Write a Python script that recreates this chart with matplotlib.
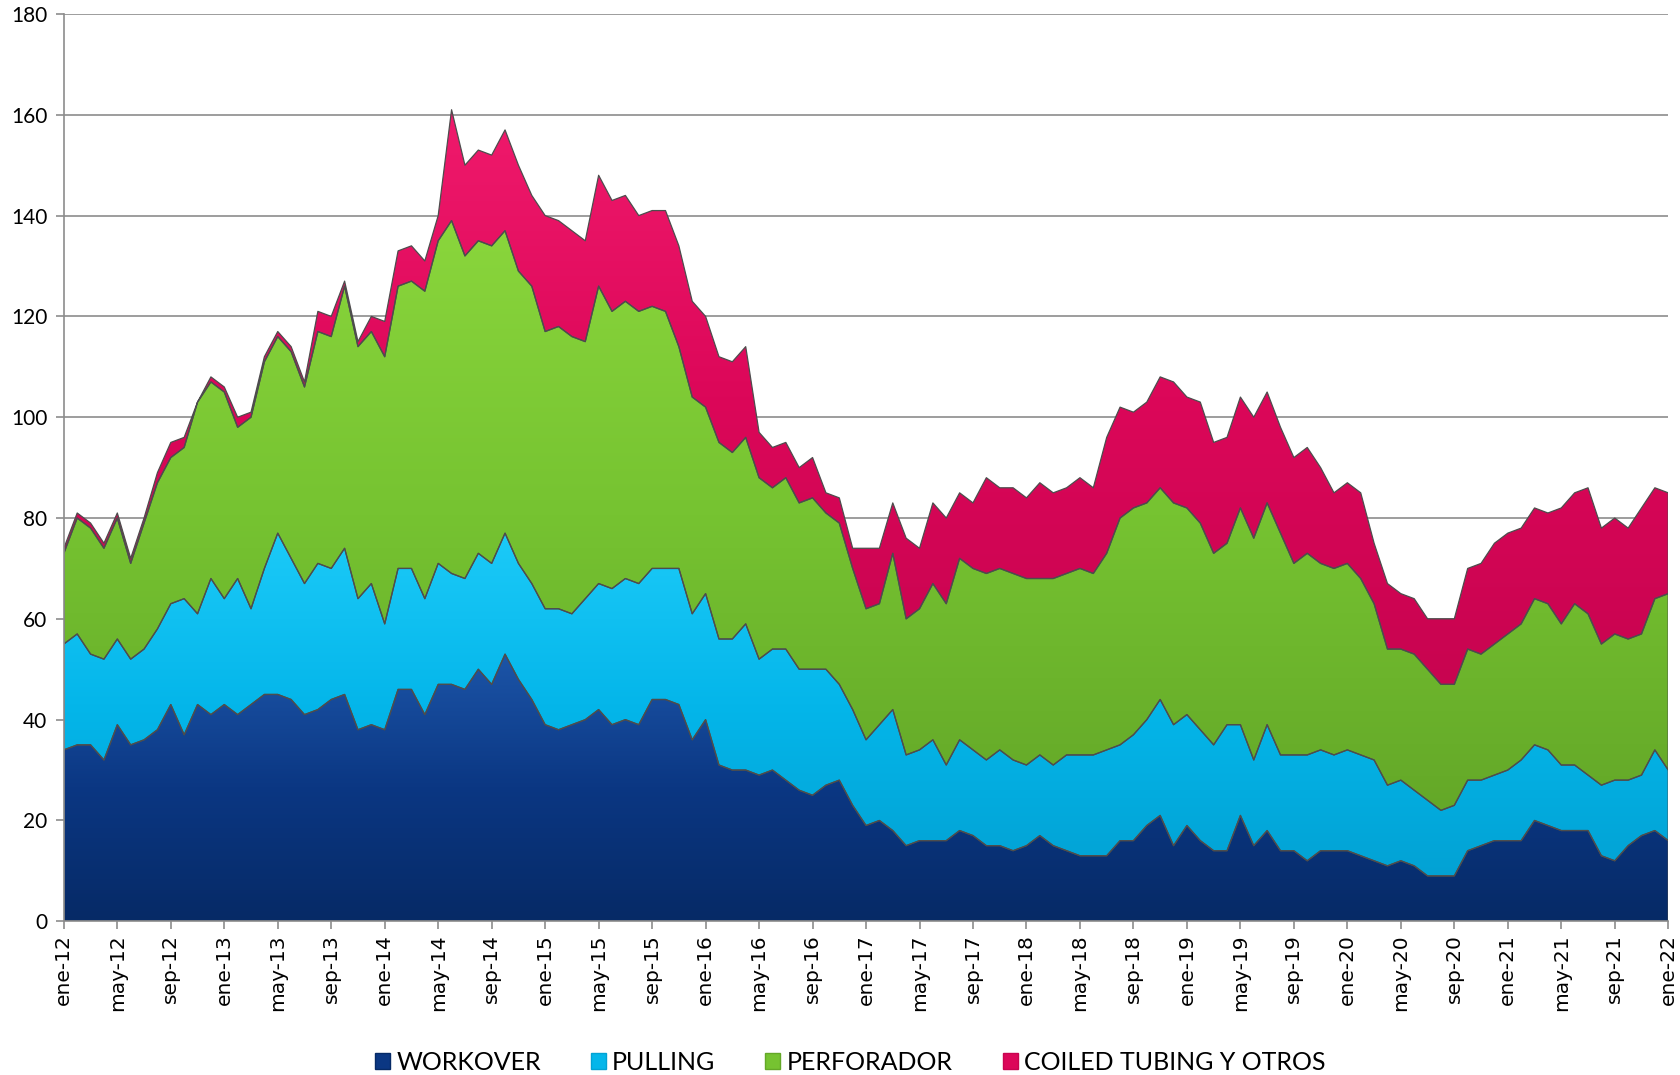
import numpy as np
import matplotlib
matplotlib.use("Agg")
import matplotlib.pyplot as plt
from matplotlib.colors import LinearSegmentedColormap
from matplotlib.patches import Patch, PathPatch

# equipos activos por mes, ene-12 a ene-22
meses = ["ene", "feb", "mar", "abr", "may", "jun", "jul", "ago", "sep", "oct", "nov", "dic"]
fechas = [f"{meses[m]}-{a}" for a in range(12, 23) for m in range(12)][:121]

workover = [34, 35, 35, 32, 39, 35, 36, 38, 43, 37, 43, 41, 43, 41, 43, 45, 45, 44, 41, 42,
            44, 45, 38, 39, 38, 46, 46, 41, 47, 47, 46, 50, 47, 53, 48, 44, 39, 38, 39, 40,
            42, 39, 40, 39, 44, 44, 43, 36, 40, 31, 30, 30, 29, 30, 28, 26, 25, 27, 28, 23,
            19, 20, 18, 15, 16, 16, 16, 18, 17, 15, 15, 14, 15, 17, 15, 14, 13, 13, 13, 16,
            16, 19, 21, 15, 19, 16, 14, 14, 21, 15, 18, 14, 14, 12, 14, 14, 14, 13, 12, 11,
            12, 11, 9, 9, 9, 14, 15, 16, 16, 16, 20, 19, 18, 18, 18, 13, 12, 15, 17, 18, 16]
pulling = [21, 22, 18, 20, 17, 17, 18, 20, 20, 27, 18, 27, 21, 27, 19, 25, 32, 28, 26, 29,
           26, 29, 26, 28, 21, 24, 24, 23, 24, 22, 22, 23, 24, 24, 23, 23, 23, 24, 22, 24,
           25, 27, 28, 28, 26, 26, 27, 25, 25, 25, 26, 29, 23, 24, 26, 24, 25, 23, 19, 19,
           17, 19, 24, 18, 18, 20, 15, 18, 17, 17, 19, 18, 16, 16, 16, 19, 20, 20, 21, 19,
           21, 21, 23, 24, 22, 22, 21, 25, 18, 17, 21, 19, 19, 21, 20, 19, 20, 20, 20, 16,
           16, 15, 15, 13, 14, 14, 13, 13, 14, 16, 15, 15, 13, 13, 11, 14, 16, 13, 12, 16, 14]
perforador = [18, 23, 25, 22, 24, 19, 25, 29, 29, 30, 42, 39, 41, 30, 38, 41, 39, 41, 39, 46,
              46, 52, 50, 50, 53, 56, 57, 61, 64, 70, 64, 62, 63, 60, 58, 59, 55, 56, 55, 51,
              59, 55, 55, 54, 52, 51, 44, 43, 37, 39, 37, 37, 36, 32, 34, 33, 34, 31, 32, 28,
              26, 24, 31, 27, 28, 31, 32, 36, 36, 37, 36, 37, 37, 35, 37, 36, 37, 36, 39, 45,
              45, 43, 42, 44, 41, 41, 38, 36, 43, 44, 44, 44, 38, 40, 37, 37, 37, 35, 31, 27,
              26, 27, 26, 25, 24, 26, 25, 26, 27, 27, 29, 29, 28, 32, 32, 28, 29, 28, 28, 30, 35]
coiled = [1, 1, 1, 1, 1, 1, 1, 2, 3, 2, 0, 1, 1, 2, 1, 1, 1, 1, 1, 4,
          4, 1, 1, 3, 7, 7, 7, 6, 5, 22, 18, 18, 18, 20, 21, 18, 23, 21, 21, 20,
          22, 22, 21, 19, 19, 20, 20, 19, 18, 17, 18, 18, 9, 8, 7, 7, 8, 4, 5, 4,
          12, 11, 10, 16, 12, 16, 17, 13, 13, 19, 16, 17, 16, 19, 17, 17, 18, 17, 23, 22,
          19, 20, 22, 24, 22, 24, 22, 21, 22, 24, 22, 21, 21, 21, 19, 15, 16, 17, 12, 13,
          11, 11, 10, 13, 13, 16, 18, 20, 20, 19, 18, 18, 23, 22, 25, 23, 23, 22, 25, 22, 20]

nombres = ["WORKOVER", "PULLING", "PERFORADOR", "COILED TUBING Y OTROS"]
colores = ["#0b3783", "#04b6ea", "#76c331", "#dc0759"]
claros = ["#1c55a8", "#1ccaf8", "#8ad63c", "#f01a6c"]
oscuros = ["#062a66", "#02a2d4", "#64a828", "#c80450"]

x = np.arange(len(fechas))
datos = np.array([workover, pulling, perforador, coiled])
acum = np.cumsum(datos, axis=0)

fig = plt.figure(figsize=(16.8, 10.75), dpi=100)
ax = fig.add_axes([0.038, 0.143, 0.955, 0.844])

polys = ax.stackplot(x, datos, colors=colores, edgecolor="#4d4d4d", linewidth=0.9, zorder=2)

# relleno con degradado vertical dentro de cada banda
for k, poly in enumerate(polys):
    poly.set_facecolor("none")
    hi = acum[k].max()
    lo = 0 if k == 0 else acum[k - 1].min()
    cmap = LinearSegmentedColormap.from_list("g%d" % k, [oscuros[k], colores[k], claros[k]])
    grad = np.linspace(1, 0, 256).reshape(-1, 1)
    im = ax.imshow(grad, cmap=cmap, aspect="auto", extent=(0, 120, lo, hi),
                   zorder=1.5, interpolation="bilinear")
    clip = PathPatch(poly.get_paths()[0], transform=ax.transData, facecolor="none", edgecolor="none")
    ax.add_patch(clip)
    im.set_clip_path(clip)

ax.set_xlim(0, 120)
ax.set_ylim(0, 180)
ax.set_yticks(np.arange(0, 181, 20))
ax.yaxis.grid(True, color="#8c8c8c", linewidth=1.2, zorder=0)
ax.set_axisbelow(True)

ax.set_xticks(x[::4])
ax.set_xticklabels(fechas[::4], rotation=90, fontsize=14.5, family="DejaVu Sans")
for lab in ax.get_yticklabels():
    lab.set_fontfamily("Lato")
    lab.set_fontsize(15)

for s in ["top", "right"]:
    ax.spines[s].set_visible(False)
for s in ["left", "bottom"]:
    ax.spines[s].set_color("#8c8c8c")
    ax.spines[s].set_linewidth(1.2)
ax.tick_params(axis="both", colors="#8c8c8c", length=6, width=1.2, labelcolor="black")
ax.tick_params(axis="y", pad=6)

handles = [Patch(facecolor=colores[k], edgecolor=oscuros[k]) for k in range(4)]
fig.legend(handles, nombres, loc="lower center", bbox_to_anchor=(0.506, -0.02), ncol=4,
           frameon=False, handlelength=0.6, handleheight=0.6, handletextpad=0.25,
           columnspacing=2.0, prop={"family": "Lato", "size": 18})

fig.savefig("out.png", dpi=100)
